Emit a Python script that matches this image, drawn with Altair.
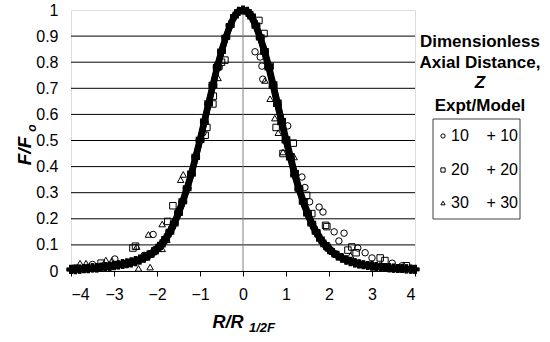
import altair as alt
import pandas as pd

# ---------------- data ----------------
X_TICKS = [-4, -3, -2, -1, 0, 1, 2, 3, 4]
Y_TICKS = [0, 0.1, 0.2, 0.3, 0.4, 0.5, 0.6, 0.7, 0.8, 0.9, 1.0]
Z_LABELS = ["10", "20", "30"]
SHAPES = ["circle", "square", "triangle-up"]

# experimental points
EXP10_R = [-3.5, -2.98, -2.3, -2.09, -1.5, -0.93, -0.6, -0.55, -0.3, 0.28, 0.40, 0.44, 0.46, 1.04, 1.37,
           1.44, 1.55, 1.77, 1.86, 2.12, 2.23, 2.35, 2.67, 2.84, 3.0, 3.47, 3.7]
EXP10_F = [0.025, 0.046, 0.06, 0.14, 0.23, 0.53, 0.79, 0.78, 0.94, 0.84, 0.82, 0.785, 0.735, 0.556, 0.36,
           0.32, 0.265, 0.245, 0.226, 0.15, 0.115, 0.145, 0.088, 0.07, 0.05, 0.03, 0.02]
EXP20_R = [-3.9, -3.3, -2.56, -2.5, -1.75, -1.63, -0.88, -0.84, -0.7, -0.69, -0.5, -0.42, 0.37, 0.49,
           0.63, 0.77, 0.93, 1.17, 1.48, 1.6, 1.92, 1.95, 2.44, 2.53, 2.63, 3.19, 3.3, 3.8]
EXP20_F = [0.01, 0.03, 0.088, 0.095, 0.19, 0.25, 0.52, 0.55, 0.64, 0.67, 0.80, 0.808, 0.96, 0.91,
           0.785, 0.55, 0.45, 0.49, 0.29, 0.22, 0.175, 0.17, 0.08, 0.092, 0.07, 0.05, 0.04, 0.02]
EXP30_R = [-3.79, -3.65, -3.19, -3.05, -2.47, -2.43, -2.2, -2.16, -1.88, -1.88, -1.77, -1.45, -1.39,
           -0.58, 0.51, 0.63, 0.74, 0.82, 0.93, 1.19, 2.0, 2.5, 3.0, 3.9]
EXP30_F = [0.03, 0.03, 0.042, 0.04, 0.094, 0.01, 0.14, 0.015, 0.18, 0.085, 0.12, 0.35, 0.37,
           0.74, 0.73, 0.66, 0.586, 0.53, 0.456, 0.437, 0.1, 0.06, 0.03, 0.01]

# model points (R from -4 to 4 in steps of 0.1)
MODEL_R = [round(-4 + 0.1 * i, 1) for i in range(81)]
MODEL10_F = [0.005, 0.006, 0.008, 0.008, 0.010, 0.011, 0.012, 0.014, 0.015, 0.018, 0.020, 0.022, 0.025,
             0.028, 0.032, 0.037, 0.043, 0.050, 0.059, 0.070, 0.084, 0.101, 0.123, 0.150, 0.181, 0.221,
             0.266, 0.316, 0.371, 0.436, 0.500, 0.570, 0.640, 0.710, 0.780, 0.840, 0.895, 0.940, 0.975,
             0.995, 1.000,
             0.990, 0.970, 0.935, 0.890, 0.835, 0.775, 0.705, 0.635, 0.565, 0.495, 0.430, 0.365, 0.310,
             0.260, 0.215, 0.177, 0.146, 0.119, 0.098, 0.081, 0.068, 0.057, 0.048, 0.041, 0.035, 0.030,
             0.026, 0.023, 0.020, 0.018, 0.016, 0.014, 0.013, 0.012, 0.011, 0.010, 0.009, 0.008, 0.007,
             0.006]
MODEL20_F = [0.006, 0.004, 0.007, 0.009, 0.008, 0.012, 0.011, 0.013, 0.016, 0.017, 0.019, 0.023, 0.024,
             0.027, 0.030, 0.035, 0.041, 0.048, 0.056, 0.067, 0.080, 0.097, 0.119, 0.146, 0.177, 0.217,
             0.262, 0.312, 0.368, 0.432, 0.497, 0.566, 0.637, 0.707, 0.777, 0.838, 0.892, 0.938, 0.974,
             0.994, 1.000,
             0.995, 0.975, 0.940, 0.895, 0.840, 0.780, 0.710, 0.640, 0.570, 0.500, 0.435, 0.370, 0.315,
             0.265, 0.220, 0.180, 0.150, 0.122, 0.100, 0.083, 0.069, 0.058, 0.049, 0.042, 0.036, 0.031,
             0.027, 0.024, 0.021, 0.019, 0.017, 0.015, 0.013, 0.012, 0.011, 0.010, 0.009, 0.008, 0.007,
             0.006]
MODEL30_F = [0.007, 0.008, 0.006, 0.010, 0.011, 0.013, 0.014, 0.016, 0.018, 0.020, 0.023, 0.025, 0.029,
             0.032, 0.036, 0.041, 0.047, 0.054, 0.063, 0.074, 0.088, 0.105, 0.127, 0.155, 0.187, 0.226,
             0.272, 0.322, 0.378, 0.443, 0.508, 0.578, 0.648, 0.718, 0.786, 0.846, 0.899, 0.944, 0.978,
             0.996, 1.000,
             0.996, 0.980, 0.945, 0.900, 0.848, 0.788, 0.720, 0.650, 0.580, 0.510, 0.445, 0.380, 0.322,
             0.272, 0.227, 0.186, 0.154, 0.126, 0.104, 0.086, 0.072, 0.061, 0.052, 0.044, 0.038, 0.033,
             0.028, 0.025, 0.022, 0.020, 0.018, 0.016, 0.014, 0.013, 0.011, 0.010, 0.009, 0.008, 0.007,
             0.007]

# ---------------- tables ----------------
exp_df = pd.concat([
    pd.DataFrame({"r": r, "f": f, "z": z})
    for r, f, z in [(EXP10_R, EXP10_F, "10"), (EXP20_R, EXP20_F, "20"), (EXP30_R, EXP30_F, "30")]
])
model_df = pd.concat([
    pd.DataFrame({"r": MODEL_R, "f": f, "z": z})
    for f, z in [(MODEL10_F, "10"), (MODEL20_F, "20"), (MODEL30_F, "30")]
])
grid_df = pd.DataFrame({"f": Y_TICKS[1:-1]})
zero_df = pd.DataFrame({"r": [0]})

W, H = 344, 261
FONT = "Liberation Sans"
xs = alt.Scale(domain=[-4, 4], nice=False, zero=False)
ys = alt.Scale(domain=[0, 1], nice=False)

X_AXIS = alt.Axis(
    values=X_TICKS, title=None, domainColor="black", domainWidth=1, tickColor="black",
    tickSize=5, labelFontSize=16, labelPadding=10, labelColor="black", grid=False, labelFont=FONT)
Y_AXIS = alt.Axis(
    values=Y_TICKS, title=None, domain=False, ticks=False, labelPadding=13, labelFontSize=16,
    labelColor="black", grid=False, format=".1~f", labelFont=FONT)
X_ENC = alt.X("r:Q", scale=xs, axis=X_AXIS)
Y_ENC = alt.Y("f:Q", scale=ys, axis=Y_AXIS)

grid = alt.Chart(grid_df).mark_rule(color="black", strokeWidth=1).encode(y=Y_ENC)
zero_line = alt.Chart(zero_df).mark_rule(color="#808080", strokeWidth=1).encode(x=X_ENC)

exp_pts = alt.Chart(exp_df).mark_point(filled=False, color="black", size=42, strokeWidth=1, opacity=1).encode(
    x=X_ENC, y=Y_ENC,
    shape=alt.Shape("z:N", scale=alt.Scale(domain=Z_LABELS, range=SHAPES), legend=None))

model_line = alt.Chart(model_df).mark_line(color="black", strokeWidth=6).encode(
    x=X_ENC, y=Y_ENC, detail="z:N")
model_pts = alt.Chart(model_df).mark_point(shape="cross", filled=True, color="black", size=75, opacity=1).encode(
    x=X_ENC, y=Y_ENC)

# ---------------- titles ----------------
def txt(s, x, y, size=17, weight="bold", style="italic", angle=0, align="center"):
    return alt.Chart(pd.DataFrame({"t": [s]})).mark_text(
        font=FONT, fontSize=size, fontWeight=weight, fontStyle=style, angle=angle,
        align=align, baseline="middle", color="black").encode(
        text="t:N", x=alt.value(x), y=alt.value(y))

titles = [
    txt("F/F", -46, 141, size=19, angle=270),
    txt("o", -39, 118, size=12, angle=270),
    txt("R/R", 157, 313, size=18),
    txt("1/2F", 191, 318, size=13),
]

# ---------------- legend ----------------
LX = 409
legend_layers = [
    txt("Dimensionless", LX, 32, style="normal"),
    txt("Axial Distance,", LX, 53, style="normal"),
    txt("Z", LX, 73),
    txt("Expt/Model", LX, 96, style="normal"),
    alt.Chart(pd.DataFrame({"a": [0]})).mark_rect(fill="white", stroke="#404040", strokeWidth=1).encode(
        x=alt.value(362), x2=alt.value(449), y=alt.value(109), y2=alt.value(209)),
]
ROW_Y = [126, 160, 193]
for lab, shp, yy in zip(Z_LABELS, SHAPES, ROW_Y):
    legend_layers.append(
        alt.Chart(pd.DataFrame({"a": [0]})).mark_point(
            shape=shp, filled=False, color="black", size=18, strokeWidth=1, opacity=1).encode(
            x=alt.value(372), y=alt.value(yy)))
    legend_layers.append(txt(lab, 380, yy, size=16, weight="normal", style="normal", align="left"))
    legend_layers.append(txt("+ " + lab, 447, yy, size=16, weight="normal", style="normal", align="right"))

chart = alt.layer(
    grid, zero_line, exp_pts, model_line, model_pts, *titles, *legend_layers
).properties(
    width=W, height=H,
    autosize=alt.AutoSizeParams(type="none"),
    padding={"left": 71, "top": 10, "right": 135, "bottom": 71},
).configure_view(stroke="#808080", strokeWidth=1).configure(font=FONT)

chart.save("out.html", embed_options={"renderer": "svg", "actions": False})
